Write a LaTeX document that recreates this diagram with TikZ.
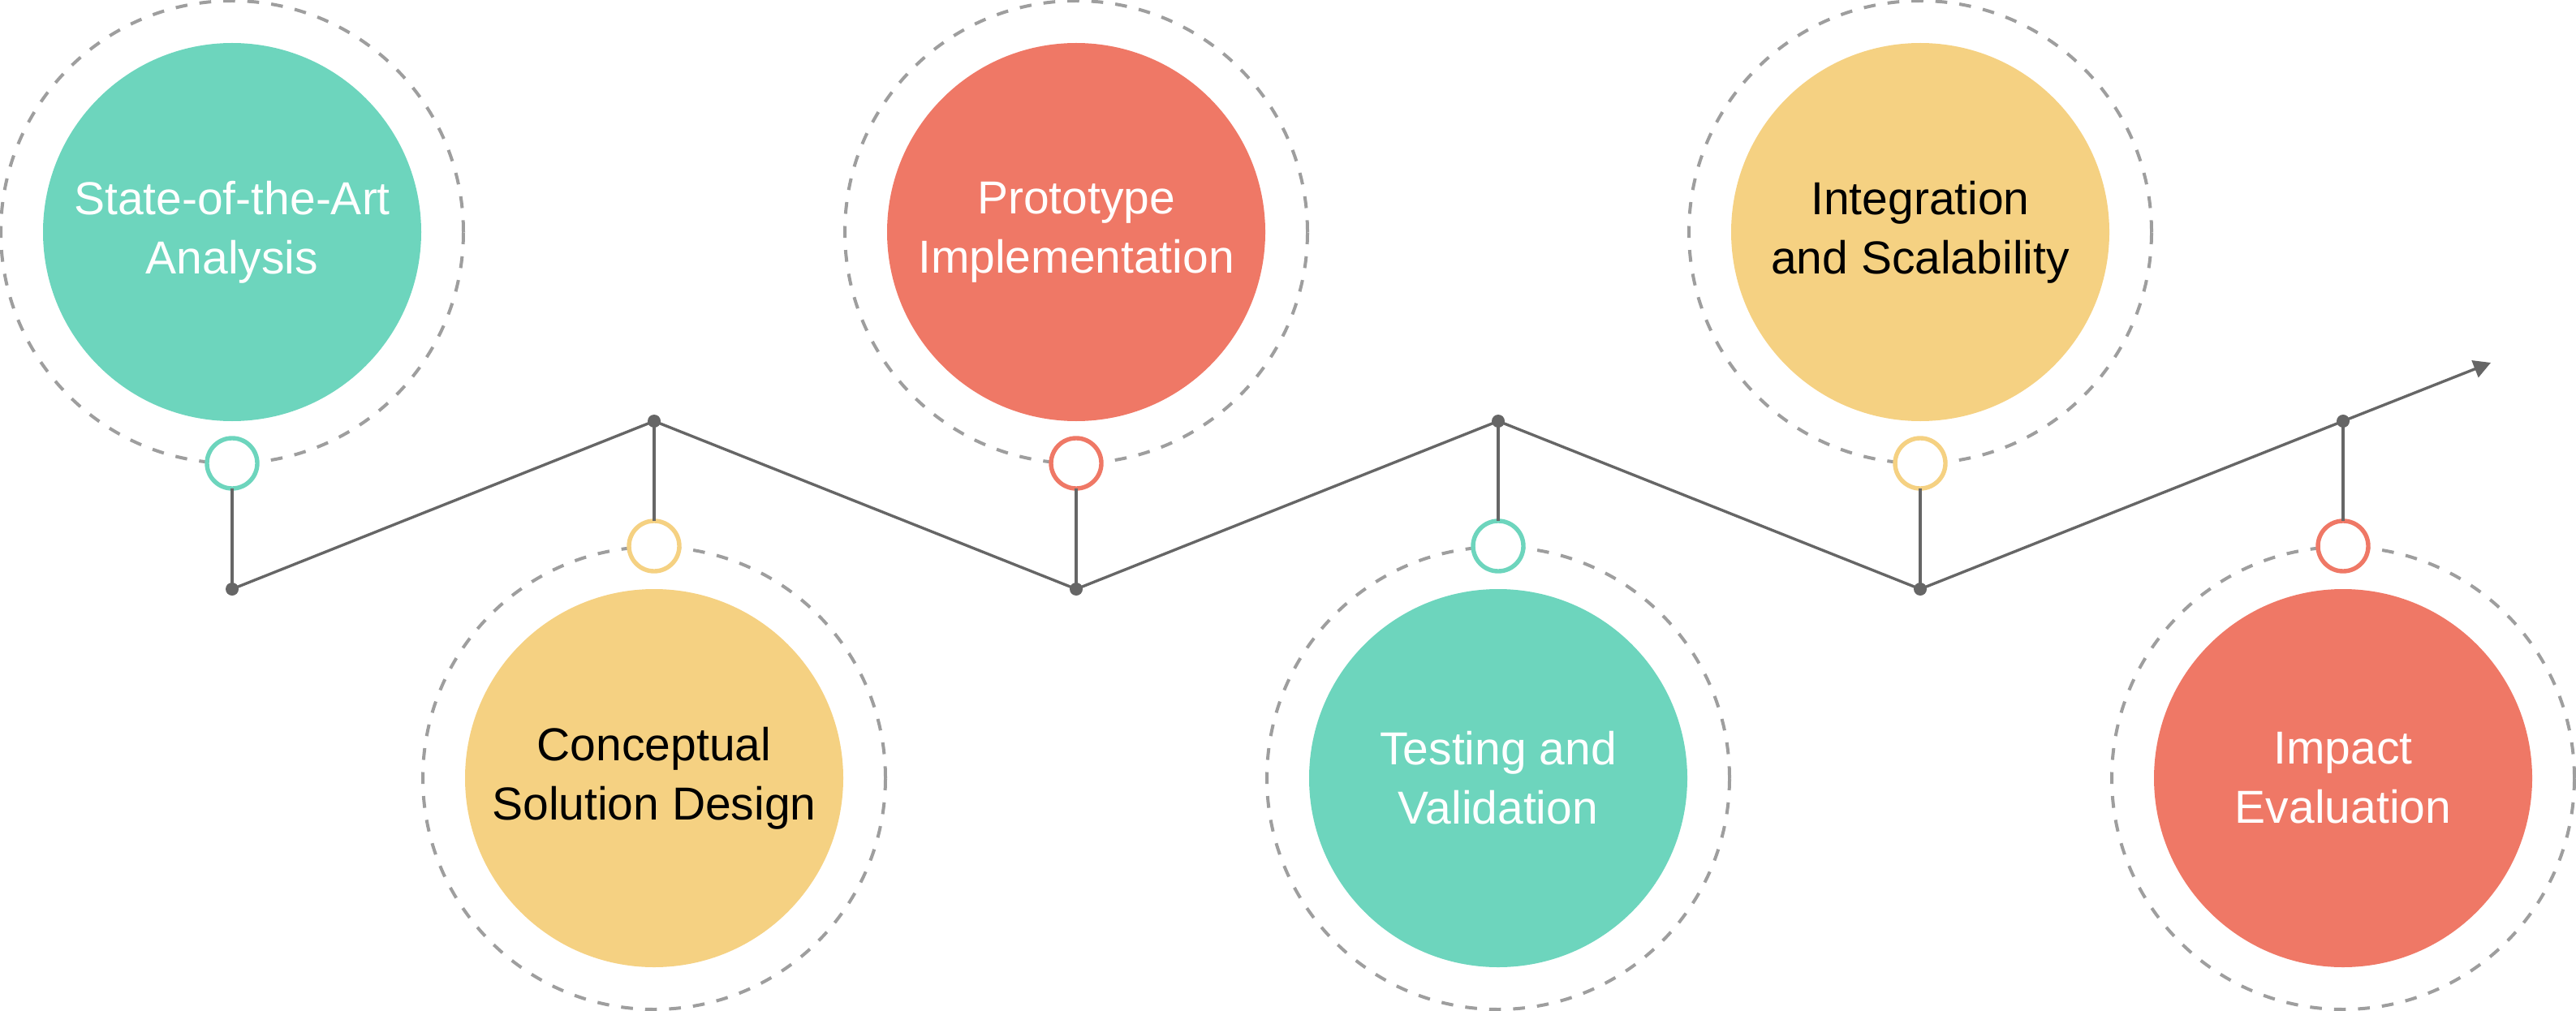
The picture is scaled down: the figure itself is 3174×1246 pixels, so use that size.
\documentclass[tikz,border=0pt]{standalone}
\usepackage{fontspec}
\setmainfont{Liberation Sans}
\usetikzlibrary{arrows.meta}
\definecolor{tealc}{HTML}{6DD5BD}
\definecolor{redc}{HTML}{EF7866}
\definecolor{yelc}{HTML}{F5D182}
\definecolor{linegray}{HTML}{666666}
\definecolor{dashgray}{HTML}{9E9E9E}
\begin{document}
\begin{tikzpicture}[x=0.5pt,y=-0.5pt,
  halo/.style={circle, draw=dashgray, line width=2pt, dash pattern=on 7.3pt off 7.5pt, minimum size=285pt, inner sep=0pt, outer sep=0pt},
  disc/.style={circle, fill=#1, minimum size=233pt, inner sep=0pt, outer sep=0pt},
  ring/.style={circle, draw=#1, fill=white, line width=2.7pt, minimum size=31pt, inner sep=0pt, outer sep=0pt},
  dotnode/.style={circle, fill=linegray, minimum size=8pt, inner sep=0pt, outer sep=0pt},
  conn/.style={draw=linegray, line width=1.7pt},
  txt/.style={align=center, font=\fontsize{28.5pt}{36.4pt}\selectfont, inner sep=0pt}]
\useasboundingbox (0,0) rectangle (3174,1246);
% halos
\node[halo] (h1) at (286,286) {};
\node[halo] (h2) at (806,959) {};
\node[halo] (h3) at (1326,286) {};
\node[halo] (h4) at (1846,959) {};
\node[halo] (h5) at (2366,286) {};
\node[halo] (h6) at (2887,959) {};
% discs
\node[disc=tealc] (c1) at (286,286) {};
\node[disc=yelc] (c2) at (806,959) {};
\node[disc=redc] (c3) at (1326,286) {};
\node[disc=tealc] (c4) at (1846,959) {};
\node[disc=yelc] (c5) at (2366,286) {};
\node[disc=redc] (c6) at (2887,959) {};
% dots positions
\coordinate (d1) at (286,726);
\coordinate (d2) at (806,519);
\coordinate (d3) at (1326,726);
\coordinate (d4) at (1846,519);
\coordinate (d5) at (2366,726);
\coordinate (d6) at (2887,519);
\coordinate (tip) at (3069,447);
% rings
\node[ring=tealc] (r1) at (286,571) {};
\node[ring=yelc] (r2) at (806,673) {};
\node[ring=redc] (r3) at (1326,571) {};
\node[ring=tealc] (r4) at (1846,673) {};
\node[ring=yelc] (r5) at (2366,571) {};
\node[ring=redc] (r6) at (2887,673) {};
% connectors
\draw[conn] (r1.south) -- (d1);
\draw[conn] (d2) -- (r2.north);
\draw[conn] (r3.south) -- (d3);
\draw[conn] (d4) -- (r4.north);
\draw[conn] (r5.south) -- (d5);
\draw[conn] (d6) -- (r6.north);
\draw[conn, -{Triangle[length=10.5pt,width=11pt]}] (d1) -- (d2) -- (d3) -- (d4) -- (d5) -- (d6) -- (tip);
% dots
\foreach \i in {1,...,6} { \node[dotnode] (dot\i) at (d\i) {}; }
% texts
\node[txt, text=white] (t1) at (c1) {State-of-the-Art\\Analysis};
\node[txt, text=black] (t2) at (c2) {Conceptual\\Solution Design};
\node[txt, text=white] (t3) at (c3) {Prototype\\Implementation};
\node[txt, text=white] (t4) at (c4) {Testing and\\Validation};
\node[txt, text=black] (t5) at (c5) {Integration\\and Scalability};
\node[txt, text=white] (t6) at (c6) {Impact\\Evaluation};
\end{tikzpicture}
\end{document}
